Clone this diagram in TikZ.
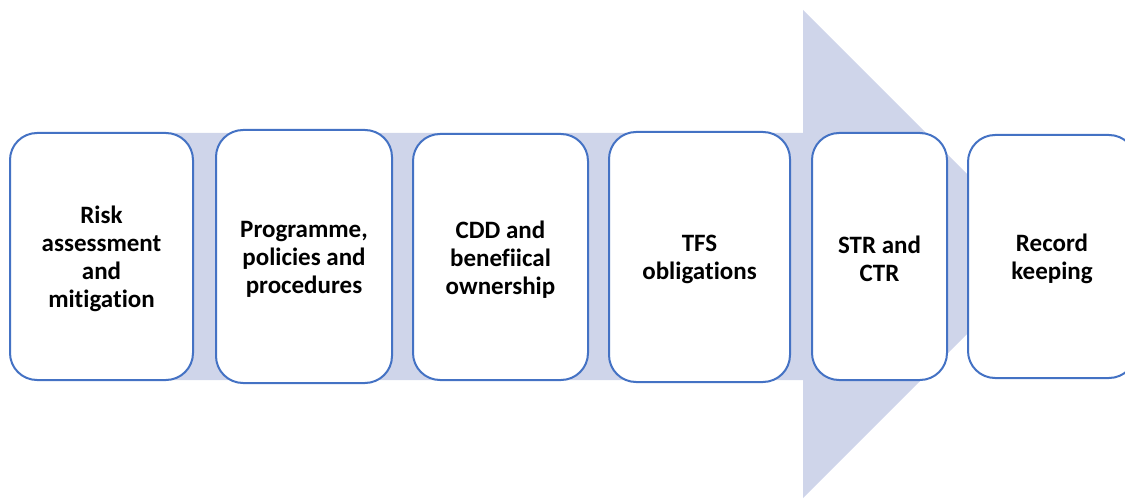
\documentclass[tikz,border=0pt]{standalone}
\usepackage{fontspec}
\setmainfont{Carlito}[Ligatures=NoCommon]
\definecolor{arrowfill}{HTML}{CFD5EA}
\definecolor{boxline}{HTML}{4472C4}
\begin{document}
\begin{tikzpicture}[x=1pt,y=-1pt,
  stagebox/.style={draw=boxline, line width=2pt, fill=white, rounded corners=27pt,
    rectangle, inner sep=0pt},
  stagetext/.style={inner sep=0pt, align=center,
    font=\fontsize{25pt}{28pt}\selectfont\bfseries},
]
\useasboundingbox (0,0) rectangle (1125,500);
\clip (0,0) rectangle (1125,500);
\fill[arrowfill] (170,133) -- (803,133) -- (803,10) -- (1047,254) -- (803,498) -- (803,380) -- (170,380) -- cycle;
\node[stagebox, minimum width=183pt, minimum height=247pt] (s1) at (101.5,256.5) {};
\node[stagebox, minimum width=176pt, minimum height=253pt] (s2) at (304,256.5) {};
\node[stagebox, minimum width=175pt, minimum height=246pt] (s3) at (500.5,257) {};
\node[stagebox, minimum width=181pt, minimum height=250pt] (s4) at (699.5,257) {};
\node[stagebox, minimum width=135pt, minimum height=247pt] (s5) at (879.5,256.5) {};
\node[stagebox, minimum width=168pt, minimum height=243pt] (s6) at (1052,256.5) {};
\node[stagetext] (t1) at ([yshift=-2.5pt]s1.center) {Risk\\assessment\\and\\mitigation};
\node[stagetext] (t2) at ([yshift=-2.5pt]s2.center) {Programme,\\policies and\\procedures};
\node[stagetext] (t3) at ([yshift=-2.5pt]s3.center) {CDD and\\benefiical\\ownership};
\node[stagetext] (t4) at ([yshift=-2.5pt]s4.center) {TFS\\obligations};
\node[stagetext] (t5) at ([yshift=-2.5pt]s5.center) {STR and\\CTR};
\node[stagetext] (t6) at ([yshift=-2.5pt]s6.center) {Record\\keeping};
\end{tikzpicture}
\end{document}
